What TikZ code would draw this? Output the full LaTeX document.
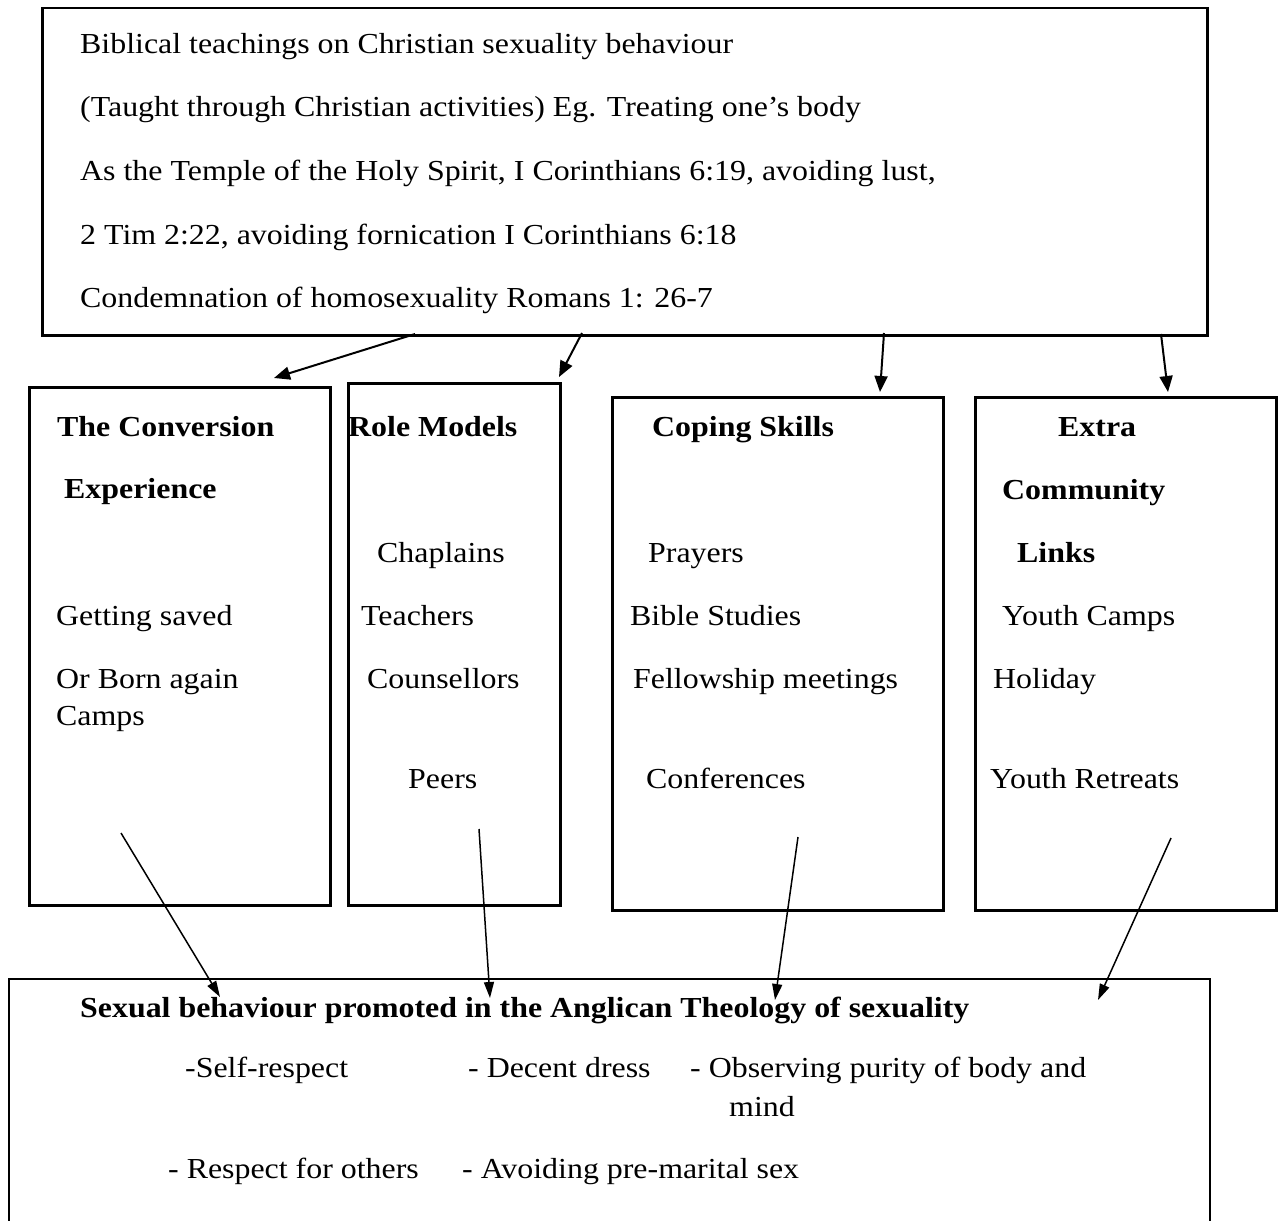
\documentclass[tikz,border=0pt]{standalone}
\usepackage{fontspec}
\setmainfont{Liberation Serif}[FakeStretch=1.1]
\usetikzlibrary{arrows.meta}
\tikzset{
  txt/.style={anchor=base west, inner sep=0pt, font=\fontsize{29}{34}\selectfont},
  btxt/.style={anchor=base west, inner sep=0pt, font=\fontsize{29}{34}\selectfont\bfseries},
  box/.style={draw, line width=2.5pt, rectangle, anchor=north west, inner sep=0pt},
  arr/.style={-{Triangle[length=16pt,width=13pt]}, line width=2pt},
  arrt/.style={-{Triangle[length=16pt,width=10pt]}, line width=1.5pt}
}
\begin{document}
\begin{tikzpicture}[x=1pt,y=-1pt]
\useasboundingbox[fill=white] (0,0) rectangle (1281,1220);
% boxes
\node[box, minimum width=1165pt, minimum height=327pt] (top) at (41,7) {};
\node[box, minimum width=301pt, minimum height=518pt] (conv) at (28,386) {};
\node[box, minimum width=212pt, minimum height=522pt] (role) at (347,382) {};
\node[box, minimum width=331pt, minimum height=513pt] (cope) at (611,396) {};
\node[box, minimum width=301pt, minimum height=513pt] (extra) at (974,396) {};
\node[box, line width=2pt, minimum width=1201pt, minimum height=280pt] (bottom) at (8,978) {};
% top text
\node[txt] (t1) at (80,54) {Biblical teachings on Christian sexuality behaviour};
\node[txt] (t2) at (80,117) {(Taught through Christian activities) Eg. Treating one’s body};
\node[txt] (t3) at (80,180) {As the Temple of the Holy Spirit, I Corinthians 6:19, avoiding lust,};
\node[txt] (t4) at (80,244) {2 Tim 2:22, avoiding fornication I Corinthians 6:18};
\node[txt] (t5) at (80,307) {Condemnation of homosexuality Romans 1: 26-7};
% box 1
\node[btxt] (c1) at (57,436) {The Conversion};
\node[btxt] (c2) at (64,498) {Experience};
\node[txt] (c3) at (56,625) {Getting saved};
\node[txt] (c4) at (56,688) {Or Born again};
\node[txt] (c5) at (56,725) {Camps};
% box 2
\node[btxt] (r1) at (348,436) {Role Models};
\node[txt] (r2) at (377,562) {Chaplains};
\node[txt] (r3) at (361,625) {Teachers};
\node[txt] (r4) at (367,688) {Counsellors};
\node[txt] (r5) at (408,788) {Peers};
% box 3
\node[btxt] (k1) at (652,436) {Coping Skills};
\node[txt] (k2) at (648,562) {Prayers};
\node[txt] (k3) at (630,625) {Bible Studies};
\node[txt] (k4) at (633,688) {Fellowship meetings};
\node[txt] (k5) at (646,788) {Conferences};
% box 4
\node[btxt] (e1) at (1058,436) {Extra};
\node[btxt] (e2) at (1002,499) {Community};
\node[btxt] (e3) at (1017,562) {Links};
\node[txt] (e4) at (1002,625) {Youth Camps};
\node[txt] (e5) at (993,688) {Holiday};
\node[txt] (e6) at (990,788) {Youth Retreats};
% bottom text
\node[btxt] (b1) at (80,1017) {Sexual behaviour promoted in the Anglican Theology of sexuality};
\node[txt] (b2) at (185,1077) {-Self-respect};
\node[txt] (b3) at (468,1077) {- Decent dress};
\node[txt] (b4) at (690,1077) {- Observing purity of body and};
\node[txt] (b5) at (729,1116) {mind};
\node[txt] (b6) at (168,1178) {- Respect for others};
\node[txt] (b7) at (462,1178) {- Avoiding pre-marital sex};
% connector end points
\coordinate (a1s) at (415,334); \coordinate (a1e) at (274,378);
\coordinate (a2s) at (582,333); \coordinate (a2e) at (559,377);
\coordinate (a3s) at (884,333); \coordinate (a3e) at (880,392);
\coordinate (a4s) at (1161,334); \coordinate (a4e) at (1168,392);
\coordinate (b1s) at (121,833); \coordinate (b1e) at (220,997);
\coordinate (b2s) at (479,829); \coordinate (b2e) at (490,998);
\coordinate (b3s) at (798,837); \coordinate (b3e) at (775,1000);
\coordinate (b4s) at (1171,838); \coordinate (b4e) at (1098,1000);
\draw[arr] (a1s) -- (a1e);
\draw[arr] (a2s) -- (a2e);
\draw[arr] (a3s) -- (a3e);
\draw[arr] (a4s) -- (a4e);
\draw[arrt] (b1s) -- (b1e);
\draw[arrt] (b2s) -- (b2e);
\draw[arrt] (b3s) -- (b3e);
\draw[arrt] (b4s) -- (b4e);
\end{tikzpicture}
\end{document}
